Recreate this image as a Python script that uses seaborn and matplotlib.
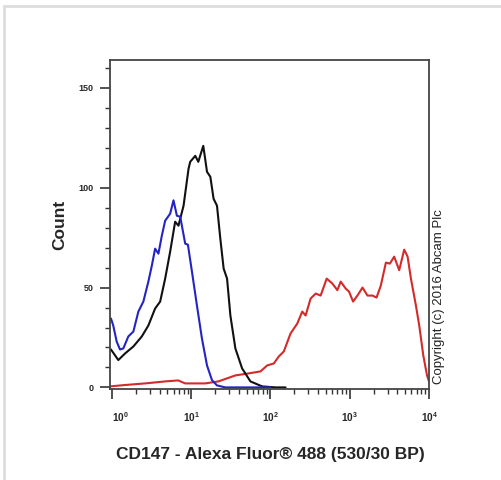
import numpy as np
import pandas as pd
import seaborn as sns
import matplotlib.pyplot as plt
import matplotlib.transforms as mtransforms
from matplotlib.patches import Rectangle
from matplotlib.ticker import FixedLocator, LogLocator, NullFormatter, MultipleLocator

# histogram traces, x as log10 of fluorescence, y as event count
blue_log = [-0.025, -0.013, 0.016, 0.059, 0.101, 0.143, 0.206, 0.27, 0.333, 0.396, 0.459,
            0.503, 0.544, 0.586, 0.629, 0.671, 0.734, 0.776, 0.819, 0.861, 0.924, 0.958,
            1.009, 1.072, 1.135, 1.199, 1.262, 1.325, 1.43, 2.0]
blue_count = [34, 34.5, 31, 23, 19, 19.5, 25.5, 28, 38, 43, 53, 61, 69.5, 67, 76, 83.5,
              87, 93.7, 86, 85.5, 72, 71.5, 58, 41, 24.5, 11, 3.6, 1, 0, 0]

black_log = [-0.025, -0.013, 0.08, 0.165, 0.27, 0.376, 0.459, 0.544, 0.608, 0.671, 0.734,
             0.797, 0.839, 0.903, 0.966, 0.987, 1.051, 1.089, 1.152, 1.199, 1.241, 1.282,
             1.325, 1.367, 1.409, 1.452, 1.494, 1.557, 1.642, 1.747, 1.895, 2.063, 2.19]
black_count = [19, 19, 13.7, 17, 20.5, 25.5, 31, 39.5, 43, 54.5, 68, 83, 81, 91, 109.5,
               113, 116, 113, 121, 108, 105.5, 94.5, 91, 74.5, 59.5, 54.5, 36, 19.5, 9.5,
               3, 0.5, 0, 0]

red_log = [-0.025, 0.165, 0.418, 0.671, 0.835, 0.924, 1.177, 1.342, 1.557, 1.722, 1.873,
           1.958, 2.042, 2.105, 2.168, 2.253, 2.338, 2.401, 2.443, 2.506, 2.57, 2.633,
           2.709, 2.781, 2.844, 2.886, 2.949, 2.991, 3.042, 3.097, 3.161, 3.224, 3.287,
           3.338, 3.392, 3.456, 3.506, 3.561, 3.624, 3.687, 3.73, 3.772, 3.835, 3.877,
           3.928, 3.975, 4.0]
red_count = [0.5, 1.2, 2, 3, 3.5, 2, 2, 3, 6, 7, 8, 11, 12, 15.5, 18, 27, 32, 38, 36,
             44.5, 47, 46, 54.5, 52, 48.7, 53, 49.5, 48, 43, 46, 50, 46, 46, 45, 51, 62.5,
             62, 65.5, 58.7, 69, 65.5, 54.5, 41, 31, 16, 6, 3]

y_ticks = [0, 50, 100, 150]
x_ticks = [1, 10, 100, 1000, 10000]
x_tick_labels = ['$10^{0}$', '$10^{1}$', '$10^{2}$', '$10^{3}$', '$10^{4}$']

frames = []
for name, lx, cnt in [('red', red_log, red_count), ('black', black_log, black_count),
                      ('blue', blue_log, blue_count)]:
    frames.append(pd.DataFrame({'fluor': 10 ** np.array(lx), 'count': cnt, 'trace': name}))
df = pd.concat(frames, ignore_index=True)

sns.set_style('ticks')
plt.rcParams['font.family'] = ['Liberation Sans', 'DejaVu Sans']
plt.rcParams['mathtext.default'] = 'regular'

fig = plt.figure(figsize=(5.02, 4.8), dpi=100)
ax = fig.add_axes([110 / 502, 91 / 480, 319 / 502, 329 / 480])

sns.lineplot(data=df, x='fluor', y='count', hue='trace', estimator=None,
             palette={'red': '#d42a2a', 'black': '#111111', 'blue': '#2424c4'},
             linewidth=1.5, legend=False, ax=ax, solid_joinstyle='round')

ax.set_xscale('log')
ax.set_xlim(10 ** -0.025, 10 ** 4.0)
ax.set_ylim(-0.8, 164)

ax.xaxis.set_major_locator(FixedLocator(x_ticks))
ax.xaxis.set_minor_locator(LogLocator(base=10, subs=np.arange(2, 10), numticks=20))
ax.xaxis.set_minor_formatter(NullFormatter())
ax.set_xticklabels(x_tick_labels, fontsize=7.2, fontweight='bold')
ax.set_yticks(y_ticks)
ax.yaxis.set_minor_locator(MultipleLocator(10))
for lab in ax.get_yticklabels():
    lab.set_fontsize(6.5)
    lab.set_fontweight('bold')

ax.tick_params(axis='both', which='major', length=7, width=1.2, color='#333333', pad=5)
ax.tick_params(axis='x', which='major', pad=8)
ax.tick_params(axis='both', which='minor', length=3.5, width=1.0, color='#333333')
for sp in ax.spines.values():
    sp.set_color('#444444')
    sp.set_linewidth(1.3)

# first decade label sits a little right of its tick, clear of the y axis
first = ax.get_xticklabels()[0]
first.set_transform(first.get_transform() +
                    mtransforms.ScaledTranslation(8 / 100, 0, fig.dpi_scale_trans))

ax.set_xlabel('')
ax.set_ylabel('')
fig.text(270 / 502, 1 - 455 / 480, 'CD147 - Alexa Fluor® 488 (530/30 BP)',
         ha='center', va='center', fontsize=12.5, fontweight='bold')
fig.text(60 / 502, 1 - 225 / 480, 'Count', rotation=90, ha='center', va='center',
         fontsize=12.5, fontweight='bold')
fig.text(439 / 502, 1 - 384 / 480, 'Copyright (c) 2016 Abcam Plc', rotation=90,
         ha='center', va='bottom', fontsize=9.5, color='#222222')

# light frame around the picture (left and top edges visible)
fig.patches.append(Rectangle((4 / 502, -0.1), 1.2, 474 / 480 + 0.1, transform=fig.transFigure,
                             fill=False, edgecolor='#dddddd', linewidth=2))

fig.savefig('out.png', dpi=100)
